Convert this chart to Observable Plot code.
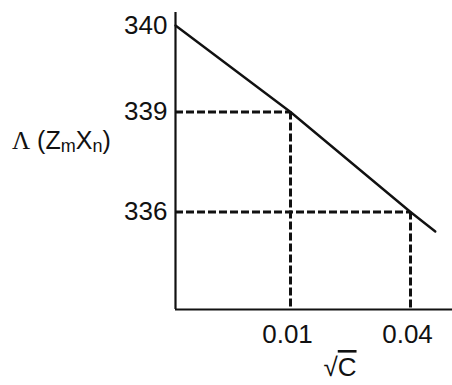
<!DOCTYPE html>
<html><head><meta charset="utf-8">
<script src="https://cdn.jsdelivr.net/npm/d3@7"></script>
<script src="https://cdn.jsdelivr.net/npm/@observablehq/plot@0.6"></script>
<style>
html,body{margin:0;padding:0;background:#fff}
svg{display:block}
</style>
</head><body><div id="chart"></div>
<script>
// Data
const concentration = [0, 0.01, 0.04, 0.0462];     // C (axis shows √C, ticks labelled by C)
const conductivity = [340, 339, 336, 335.4];        // Λ
const markedC = [0.01, 0.04];
const markedLambda = [339, 336];
const xTickValues = [0.01, 0.04];
const xTickLabels = ["0.01", "0.04"];
const yTickValues = [336, 339, 340];

// The sketch is schematic (not to scale): piecewise mapping of values onto the drawing's axes
const xBreaks = [0, 0.01, 0.04];
const yBreaks = [333, 336, 339, 340];
const xSketch = d3.scaleLinear(xBreaks, [0, 115, 235]);
const ySketch = d3.scaleLinear(yBreaks, [0, 97.5, 197.5, 284]);

const lineData = concentration.map((c, i) => ({c, v: conductivity[i]}));
const markData = markedC.map((c, i) => ({c, v: markedLambda[i]}));
const ink = "#111";
const X = d => xSketch(d.c), Y = d => ySketch(d.v);

const chart = Plot.plot({
  width: 452,
  height: 385,
  marginLeft: 175,
  marginRight: 0,
  marginTop: 12,
  marginBottom: 76,
  style: {fontFamily: "'Liberation Sans', Arial, sans-serif", color: ink, background: "#fff"},
  x: {domain: [0, 277]},
  y: {domain: [0, 297]},
  marks: [
    Plot.ruleY(markData, {y: Y, x1: xSketch(xBreaks[0]), x2: X, stroke: ink, strokeWidth: 3, strokeDasharray: "8,3"}),
    Plot.ruleX(markData, {x: X, y1: Y, y2: ySketch(yBreaks[0]), stroke: ink, strokeWidth: 3, strokeDasharray: "8,3"}),
    Plot.ruleX([xSketch(xBreaks[0])], {stroke: ink, strokeWidth: 2.2}),
    Plot.ruleY([ySketch(yBreaks[0])], {stroke: ink, strokeWidth: 2.2}),
    Plot.line(lineData, {x: X, y: Y, stroke: ink, strokeWidth: 2.4}),
    Plot.axisX(xTickValues.map(xSketch), {tickSize: 0, tickPadding: 15, fontSize: 26, dx: -3, label: null,
      tickFormat: (d, i) => xTickLabels[i]}),
    Plot.axisY(yTickValues.map(ySketch), {tickSize: 0, tickPadding: 8, fontSize: 26, label: null,
      tickFormat: (d, i) => String(yTickValues[i])})
  ]
});

const svg = d3.select(chart);
// y axis title  Λ (ZmXn)
const yl = svg.append("text").attr("x", 12).attr("y", 149).attr("text-anchor", "start")
  .attr("fill", ink).attr("font-size", 25).attr("font-family", "'Liberation Sans', Arial, sans-serif");
yl.append("tspan").attr("font-family", "'Liberation Serif', 'Times New Roman', serif").text("Λ");
yl.append("tspan").text(" (Z");
yl.append("tspan").attr("font-size", 18).attr("dy", 3).text("m");
yl.append("tspan").attr("dy", -3).text("X");
yl.append("tspan").attr("font-size", 18).attr("dy", 3).text("n");
yl.append("tspan").attr("dy", -3).text(")");
// x axis title √C
const xl = svg.append("text").attr("x", 340).attr("y", 376).attr("text-anchor", "middle")
  .attr("fill", ink).attr("font-size", 26).attr("font-family", "'Liberation Sans', Arial, sans-serif");
xl.append("tspan").text("√");
xl.append("tspan").style("text-decoration", "overline").text("C");

document.getElementById("chart").appendChild(chart);
</script>
</body></html>
